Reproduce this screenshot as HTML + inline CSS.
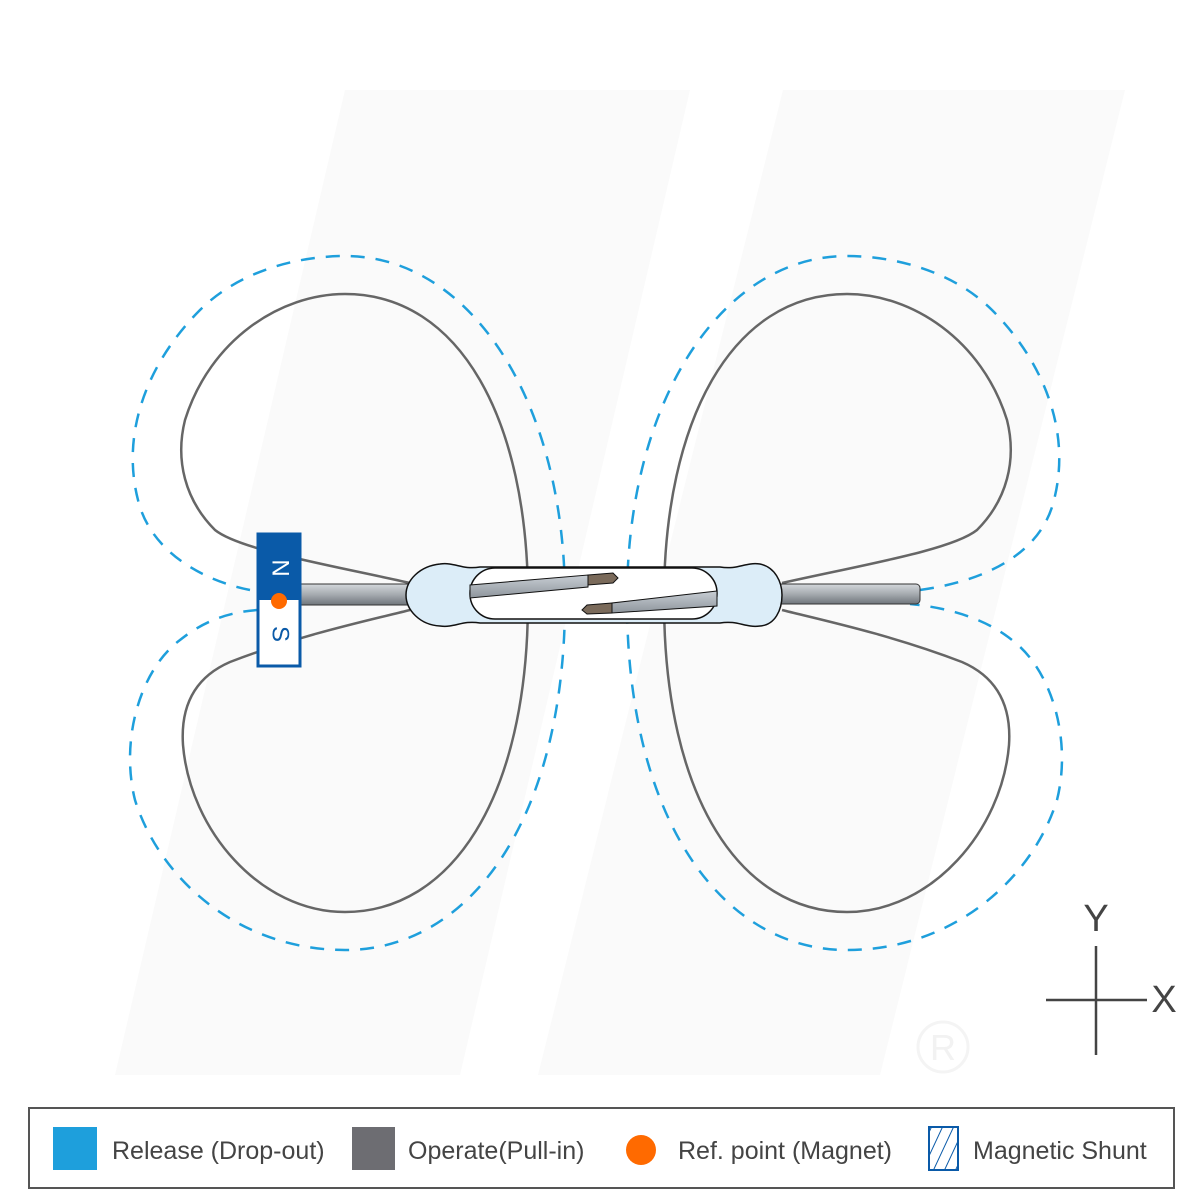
<!DOCTYPE html>
<html><head><meta charset="utf-8"><style>
html,body{margin:0;padding:0;background:#fff;}
svg{display:block;}
text{font-family:"Liberation Sans","DejaVu Sans",sans-serif;}
</style></head><body>
<svg width="1200" height="1200" viewBox="0 0 1200 1200" xmlns="http://www.w3.org/2000/svg">
<defs>
<linearGradient id="lead" x1="0" y1="0" x2="0" y2="1">
<stop offset="0" stop-color="#d4d8dc"/><stop offset="0.5" stop-color="#a6abb0"/><stop offset="1" stop-color="#6f757b"/>
</linearGradient>
<linearGradient id="blade" x1="0" y1="0" x2="0" y2="1">
<stop offset="0" stop-color="#c8ced4"/><stop offset="1" stop-color="#8e959c"/>
</linearGradient>
<pattern id="hatch" width="10" height="10" patternUnits="userSpaceOnUse" patternTransform="rotate(25)">
<line x1="0" y1="0" x2="0" y2="10" stroke="#0a5aa8" stroke-width="2"/>
</pattern>
</defs>
<!-- watermark -->
<polygon points="345,90 690,90 460,1075 115,1075" fill="#fafafa"/>
<polygon points="783,90 1125,90 880,1075 538,1075" fill="#fafafa"/>
<circle cx="943" cy="1047" r="25" fill="none" stroke="#f4f4f4" stroke-width="3"/>
<text x="943" y="1060" font-size="36" text-anchor="middle" fill="#f2f2f2">R</text>

<!-- operate solid lobes -->
<g fill="none" stroke="#666" stroke-width="2.5">
<path d="M410,583 C330,565 240,550 215,530 C185,500 175,460 185,420 C210,340 280,294 345,294 C460,294 528,420 528,600 C528,800 450,912 345,912 C260,912 190,830 183,745 C180,700 200,675 230,662 C300,635 370,620 410,610"/>
<path d="M410,583 C330,565 240,550 215,530 C185,500 175,460 185,420 C210,340 280,294 345,294 C460,294 528,420 528,600 C528,800 450,912 345,912 C260,912 190,830 183,745 C180,700 200,675 230,662 C300,635 370,620 410,610" transform="translate(1192,0) scale(-1,1)"/>
</g>
<!-- release dashed lobes -->
<g fill="none" stroke="#1e9fdc" stroke-width="2.5" stroke-dasharray="14,11">
<path d="M250,590 C200,580 150,550 138,500 C120,430 150,360 200,310 C240,270 300,256 345,256 C470,256 565,400 565,600 C565,820 470,950 345,950 C240,950 160,880 135,800 C120,740 140,670 180,640 C205,620 230,612 258,610"/>
<path d="M272,590 C200,580 150,550 138,500 C120,430 150,360 200,310 C240,270 300,256 345,256 C470,256 565,400 565,600 C565,820 470,950 345,950 C240,950 160,880 135,800 C120,740 140,670 180,640 C205,620 240,608 282,604" transform="translate(1192,0) scale(-1,1)"/>
</g>

<!-- leads -->
<rect x="296" y="584" width="120" height="21" fill="url(#lead)" stroke="#333" stroke-width="1"/>
<rect x="770" y="584" width="150" height="20" rx="4" fill="url(#lead)" stroke="#333" stroke-width="1"/>
<!-- capsule -->
<path d="M440,564 C455,562 462,570 480,567 L720,567 C738,570 745,562 760,564 C775,567 782,582 782,595 C782,610 775,625 760,626 C745,628 738,620 720,623 L480,623 C462,620 455,628 440,626 C420,625 406,610 406,595 C406,580 420,566 440,564 Z" fill="#dcedf8" stroke="#111" stroke-width="1.5"/>
<rect x="470" y="568" width="247" height="51" rx="25" fill="#fff" stroke="#111" stroke-width="1.5"/>
<!-- blades -->
<path d="M470,585 L588,575 L588,587 L470,598 Z" fill="url(#blade)" stroke="#111" stroke-width="1"/>
<path d="M588,575 L613,573 L618,578 L613,583 L588,585 Z" fill="#7a6a5a" stroke="#111" stroke-width="1"/>
<path d="M717,591 L612,603 L612,613 L717,606 Z" fill="url(#blade)" stroke="#111" stroke-width="1"/>
<path d="M612,603 L587,605 L582,610 L587,614 L612,613 Z" fill="#7a6a5a" stroke="#111" stroke-width="1"/>

<!-- magnet -->
<rect x="258" y="534" width="42" height="132" fill="#fff" stroke="#0a5aa8" stroke-width="3"/>
<rect x="258" y="534" width="42" height="66" fill="#0a5aa8"/>
<text x="279" y="568" font-size="24" fill="#fff" text-anchor="middle" dominant-baseline="middle" transform="rotate(90 279 568)">N</text>
<text x="279" y="634" font-size="24" fill="#0a5aa8" text-anchor="middle" dominant-baseline="middle" transform="rotate(90 279 634)">S</text>
<circle cx="279" cy="601" r="8" fill="#ff6a00"/>

<!-- axes -->
<g stroke="#444" stroke-width="2.5">
<line x1="1096" y1="946" x2="1096" y2="1055"/>
<line x1="1046" y1="1000" x2="1147" y2="1000"/>
</g>
<text x="1096" y="931" font-size="38" fill="#444" text-anchor="middle">Y</text>
<text x="1164" y="1012" font-size="38" fill="#444" text-anchor="middle">X</text>

<!-- legend -->
<rect x="29" y="1108" width="1145" height="80" fill="#fff" stroke="#555" stroke-width="2"/>
<rect x="53" y="1127" width="44" height="43" fill="#1e9fdc"/>
<text x="112" y="1159" font-size="25" fill="#444">Release (Drop-out)</text>
<rect x="352" y="1127" width="43" height="43" fill="#6d6d72"/>
<text x="408" y="1159" font-size="25" fill="#444">Operate(Pull-in)</text>
<circle cx="641" cy="1150" r="15" fill="#ff6a00"/>
<text x="678" y="1159" font-size="25" fill="#444">Ref. point (Magnet)</text>
<rect x="929" y="1127" width="29" height="43" fill="url(#hatch)" stroke="#0a5aa8" stroke-width="2"/>
<text x="973" y="1159" font-size="25" fill="#444">Magnetic Shunt</text>
</svg>
</body></html>
